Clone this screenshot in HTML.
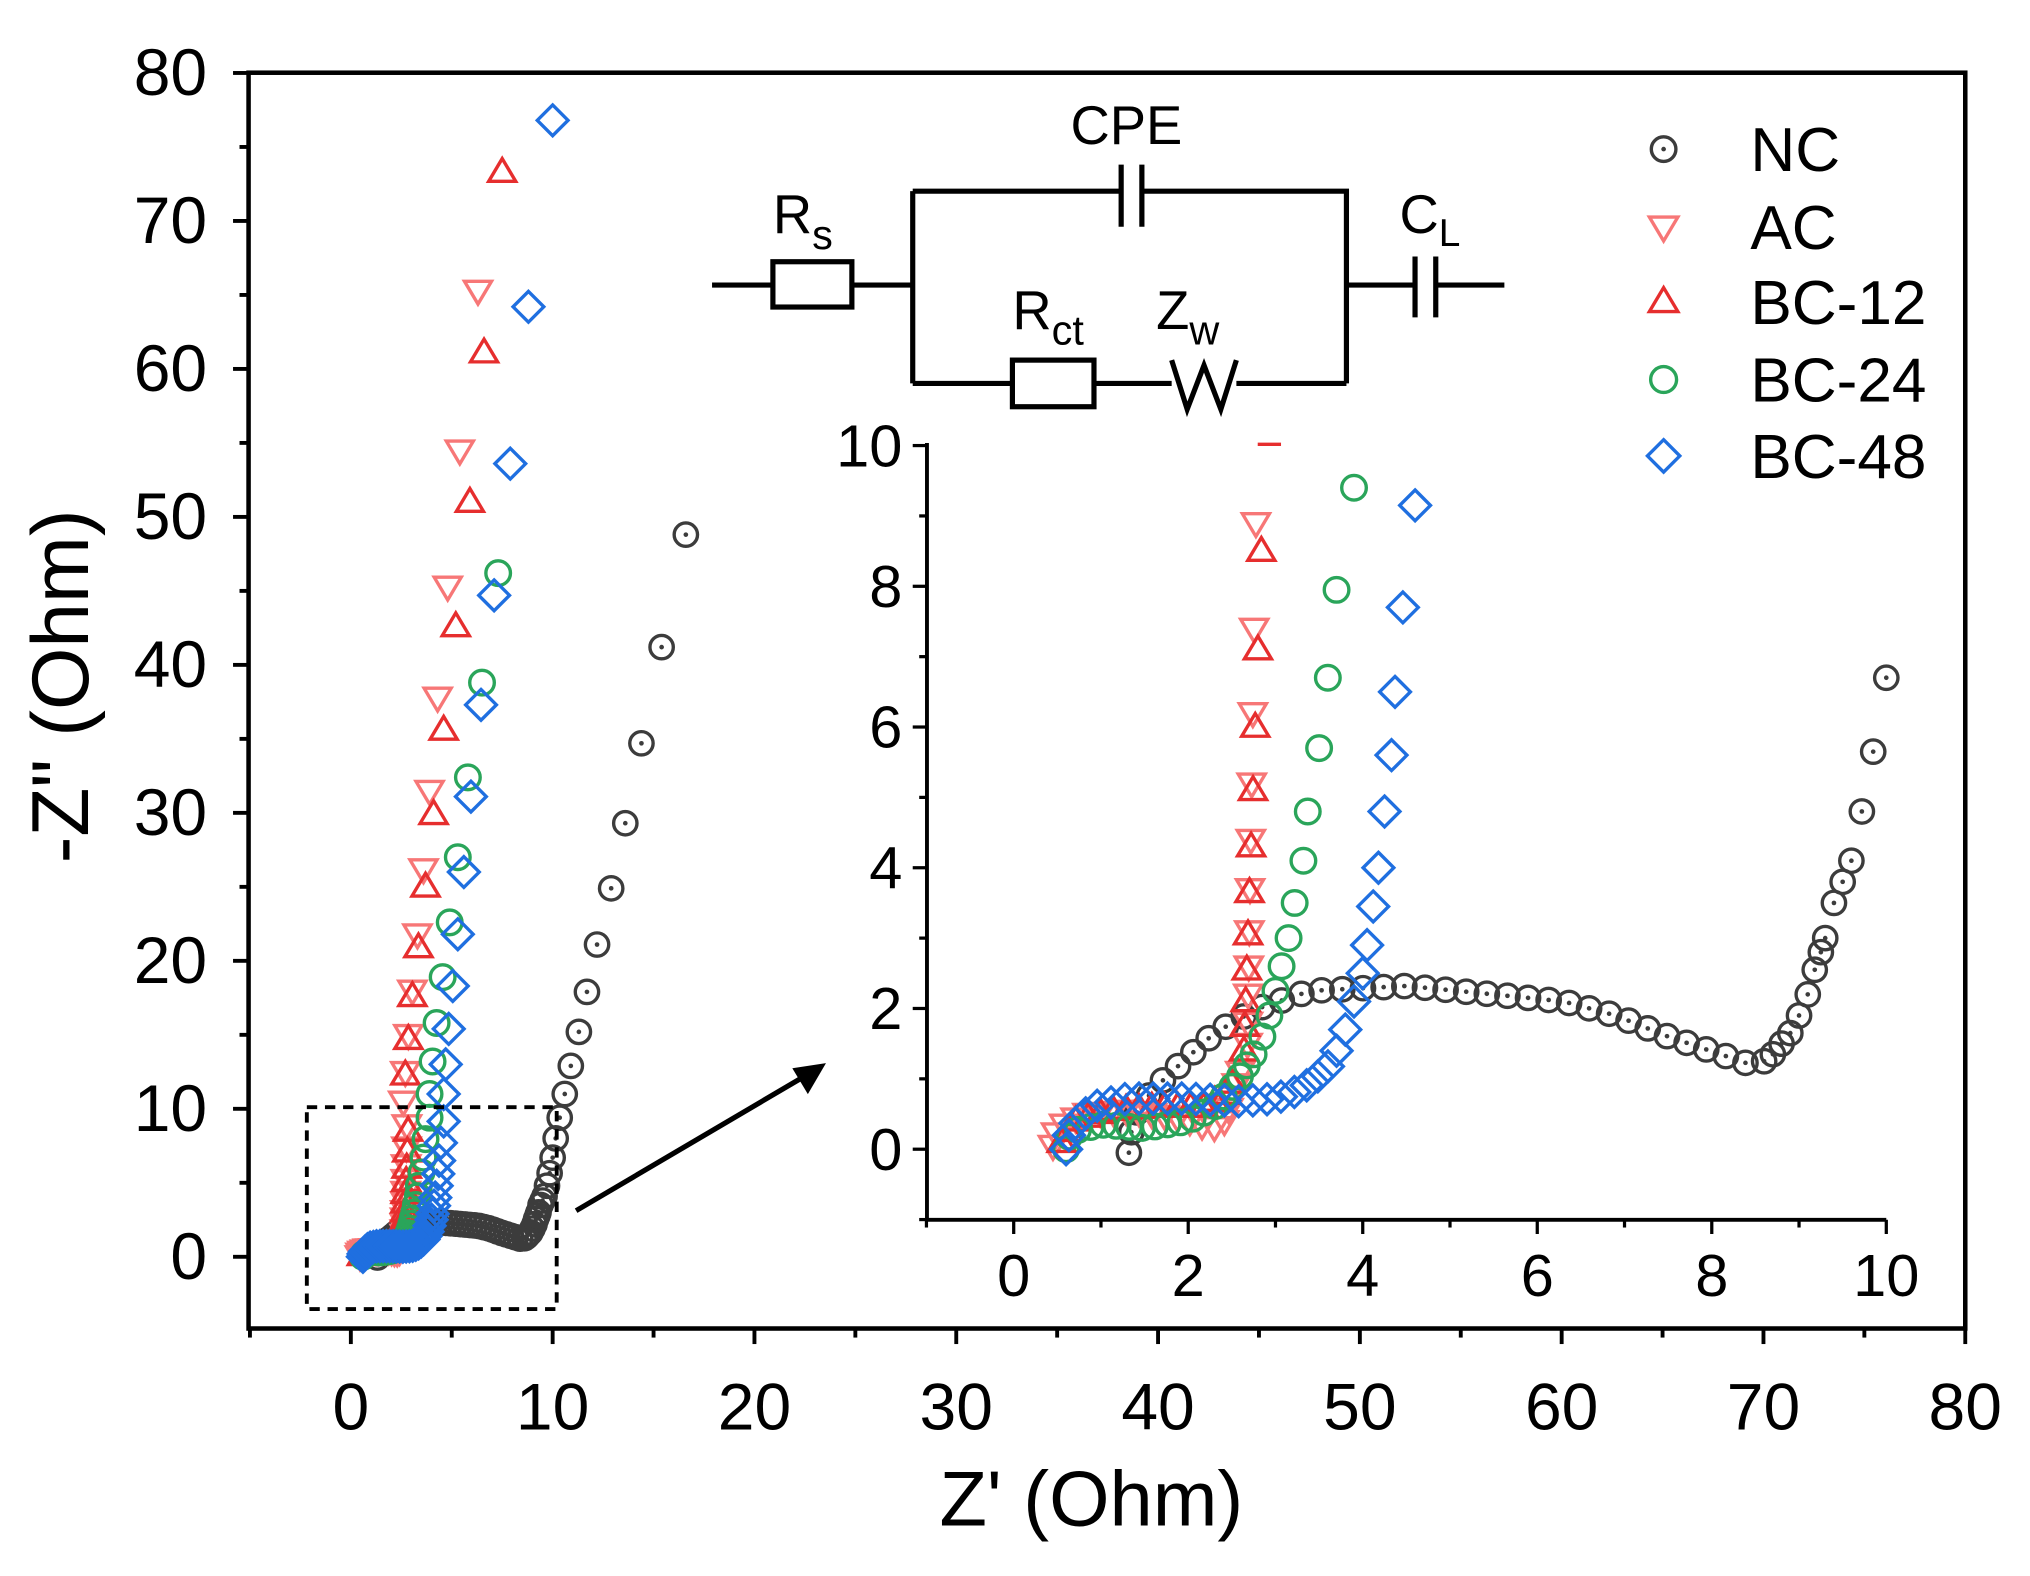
<!DOCTYPE html>
<html><head><meta charset="utf-8"><style>html,body{margin:0;padding:0;background:#fff}svg{display:block}text{font-family:"Liberation Sans",sans-serif}</style></head>
<body>
<svg id="s" xmlns="http://www.w3.org/2000/svg" width="2030" height="1576" viewBox="0 0 1568 1217">
<rect width="1568" height="1217" fill="#fff"/>
<g id="main"></g>
<g id="inset"></g>
<g stroke="#000" stroke-width="4" fill="none">
<path d="M550 220H597M658 220H705M705 147.5V296M705 147.5H866M882 147.5H1040V296M705 296H782M845 296H905M955 296H1040M1040 220H1093M1109 220H1162"/>
<rect x="597" y="202" width="61" height="35" fill="#fff"/>
<rect x="782" y="278" width="63" height="36" fill="#fff"/>
<path d="M866 127V175M882 127V175M1093 198V245M1109 198V245"/>
<path d="M905 278L917 316L930 282L943 316L955 278"/>
</g>
<g font-size="42" fill="#000">
<text x="870" y="111" text-anchor="middle">CPE</text>
<text x="597" y="180">R<tspan font-size="32" dy="12">s</tspan></text>
<text x="782" y="254">R<tspan font-size="32" dy="12">ct</tspan></text>
<text x="893" y="254">Z<tspan font-size="32" dy="12">w</tspan></text>
<text x="1081" y="180">C<tspan font-size="30" dy="10">L</tspan></text>
</g>
<rect x="237" y="855" width="193" height="156" fill="none" stroke="#000" stroke-width="3" stroke-dasharray="8,6"/>
<path d="M445 935L620 832" stroke="#000" stroke-width="4"/>
<path d="M638 821L612 825L624 845Z" fill="#000"/>
<g id="legend"></g>
</svg>
<script>
const NS="http://www.w3.org/2000/svg";
function el(p,t,a){const e=document.createElementNS(NS,t);for(const k in a)e.setAttribute(k,a[k]);p.appendChild(e);return e;}
const M=document.getElementById('main'),I=document.getElementById('inset'),L=document.getElementById('legend');
const mx=v=>271+v*15.5875, my=v=>970.6-v*11.43;
el(M,'rect',{x:192,y:56,width:1326,height:970,fill:'none',stroke:'#000','stroke-width':3.5});
for(let v=-5;v<=80;v+=5){const X=mx(v);el(M,'line',{x1:X,x2:X,y1:1026,y2:1026+(v%10==0?12:7),stroke:'#000','stroke-width':3});
 if(v%10==0&&v>=0){const t=el(M,'text',{x:X,y:1104,'text-anchor':'middle','font-size':51});t.textContent=v;}
 const Y=my(v);if(Y<=1026){el(M,'line',{x1:192,x2:192-(v%10==0?12:7),y1:Y,y2:Y,stroke:'#000','stroke-width':3});
 if(v%10==0&&v>=0){const t=el(M,'text',{x:160,y:Y+17,'text-anchor':'end','font-size':51});t.textContent=v;}}}
let t=el(M,'text',{x:843,y:1178,'text-anchor':'middle','font-size':60});t.textContent="Z' (Ohm)";
t=el(M,'text',{x:0,y:0,'text-anchor':'middle','font-size':62,transform:'translate(68,530) rotate(-90)'});t.textContent='-Z" (Ohm)';
const ix=v=>783+v*67.4, iy=v=>887.5-v*54.35;
el(I,'path',{d:'M716 342V942H1457',fill:'none',stroke:'#000','stroke-width':3});
for(let v=-1;v<=10;v++){const X=ix(v);el(I,'line',{x1:X,x2:X,y1:942,y2:942+(v%2==0?11:6),stroke:'#000','stroke-width':2.5});
 if(v%2==0&&v>=0){const t=el(I,'text',{x:X,y:1001,'text-anchor':'middle','font-size':46});t.textContent=v;}
 const Y=iy(v);el(I,'line',{x1:716,x2:716-(v%2==0?11:6),y1:Y,y2:Y,stroke:'#000','stroke-width':2.5});
 if(v%2==0&&v>=0){const t=el(I,'text',{x:697,y:Y+16,'text-anchor':'end','font-size':46});t.textContent=v;}}
const C={NC:'#3c3c3c',AC:'#f77777',B12:'#e62e2e',B24:'#2aa55a',B48:'#1f6fe0'};
function mark(g,type,x,y,r){const c=C[type],sw=2.6;
 if(type=='NC'){el(g,'circle',{cx:x,cy:y,r:r*0.95,fill:'none',stroke:c,'stroke-width':sw});el(g,'circle',{cx:x,cy:y,r:1.8,fill:c});}
 else if(type=='B24')el(g,'circle',{cx:x,cy:y,r:r,fill:'none',stroke:c,'stroke-width':sw});
 else if(type=='AC')el(g,'path',{d:`M${x-r*1.1} ${y-r*0.75}H${x+r*1.1}L${x} ${y+r*1.1}Z`,fill:'none',stroke:c,'stroke-width':sw});
 else if(type=='B12')el(g,'path',{d:`M${x-r*1.1} ${y+r*0.75}H${x+r*1.1}L${x} ${y-r*1.1}Z`,fill:'none',stroke:c,'stroke-width':sw});
 else el(g,'path',{d:`M${x} ${y-r*1.25}L${x+r*1.25} ${y}L${x} ${y+r*1.25}L${x-r*1.25} ${y}Z`,fill:'none',stroke:c,'stroke-width':sw});}
function resample(path,step){const out=[path[0]];let acc=0;
 for(let i=1;i<path.length;i++){const a=path[i-1],b=path[i];const dx=(b[0]-a[0])*67.4,dy=(b[1]-a[1])*54.35;const d=Math.hypot(dx,dy);let s=step-acc;
  while(s<=d){out.push([a[0]+(b[0]-a[0])*s/d,a[1]+(b[1]-a[1])*s/d]);s+=step;}acc=d-(s-step);}return out;}
const S={
NC:{big:[[16.6,48.8],[15.4,41.2],[14.4,34.7],[13.6,29.3],[12.9,24.9],[12.2,21.1],[11.7,17.9],[11.3,15.2],[10.9,12.9],[10.6,11],[10.35,9.4],[10.15,8]],
 path:[[1.32,-0.05],[1.33,0.15],[1.4,0.5],[1.6,0.85],[1.9,1.2],[2.3,1.65],[2.8,2.0],[3.4,2.25],[4.5,2.32],[5.5,2.2],[6.3,2.1],[6.9,1.9],[7.5,1.6],[8.1,1.35],[8.45,1.2]],step:16,
 vert:[[8.6,1.25],[8.7,1.35],[8.8,1.5],[8.9,1.65],[9.0,1.9],[9.1,2.2],[9.18,2.55],[9.25,2.8],[9.3,3.0],[9.4,3.5],[9.5,3.8],[9.6,4.1],[9.72,4.8],[9.85,5.65],[10.0,6.7]]},
AC:{big:[[6.3,65.3],[5.4,54.5],[4.8,45.3],[4.3,37.8],[3.9,31.5],[3.6,26.2],[3.3,21.8],[3.05,18],[2.85,15],[2.7,12.5],[2.6,10.5]],
 path:[[0.45,0.05],[0.5,0.3],[0.8,0.5],[1.3,0.55],[1.9,0.45],[2.25,0.3],[2.4,0.35],[2.55,0.9],[2.62,1.2]],step:10,
 vert:[1.5,1.8,2.2,2.6,3.1,3.7,4.4,5.2,6.2,7.4,8.9].map(y=>[2.66+0.013*y,y])},
B12:{big:[[7.5,73.3],[6.6,61.1],[5.9,51],[5.2,42.6],[4.6,35.6],[4.1,29.9],[3.7,25],[3.35,20.9],[3.05,17.6],[2.85,14.7],[2.7,12.3]],
 path:[[0.55,0.1],[0.7,0.4],[1.1,0.55],[1.6,0.6],[2.2,0.6],[2.45,0.8],[2.55,1.1]],step:10,
 vert:[1.4,1.75,2.1,2.55,3.05,3.65,4.3,5.1,6.0,7.1,8.5].map(y=>[2.6+0.028*y,y])},
B24:{big:[[7.3,46.2],[6.5,38.8],[5.8,32.4],[5.3,27],[4.9,22.6],[4.55,18.9],[4.25,15.8],[4.05,13.2],[3.9,11]],
 path:[[0.6,0],[0.65,0.25],[1.0,0.35],[1.5,0.3],[2.0,0.4],[2.3,0.6],[2.55,0.95],[2.75,1.35]],step:10,
 vert:[[2.85,1.6],[2.93,1.9],[3.0,2.25],[3.07,2.6],[3.15,3.0],[3.22,3.5],[3.32,4.1],[3.37,4.8],[3.5,5.7],[3.6,6.7],[3.7,7.95],[3.9,9.4]]},
B48:{big:[[10,76.8],[8.8,64.2],[7.9,53.6],[7.1,44.7],[6.45,37.3],[5.95,31.1],[5.6,26],[5.3,21.8],[5.05,18.3],[4.85,15.4],[4.7,13],[4.6,11]],
 path:[[0.6,0],[0.65,0.3],[0.9,0.6],[1.3,0.72],[2.0,0.72],[2.6,0.68],[3.0,0.72],[3.3,0.85],[3.5,1.05],[3.62,1.2]],step:11,
 vert:[[3.7,1.4],[3.8,1.7],[3.9,2.1],[4.0,2.5],[4.05,2.9],[4.12,3.45],[4.18,4.0],[4.25,4.8],[4.33,5.6],[4.37,6.5],[4.46,7.7],[4.6,9.15]]}};
for(const k in S){const s=S[k];const pts=resample(s.path,s.step).concat(s.vert);
 for(const p of s.big)mark(M,k,mx(p[0]),my(p[1]),9.5);
 for(const p of pts)mark(M,k,mx(p[0]),my(p[1]),9.5);
 for(const p of pts){if(p[1]<=10&&p[0]<=10)mark(I,k,ix(p[0]),iy(p[1]),9.5);}}
el(I,'line',{x1:ix(2.93)-9,x2:ix(2.93)+9,y1:343,y2:343,stroke:C.B12,'stroke-width':2.6});
const lg=[['NC','NC',115],['AC','AC',175],['B12','BC-12',233],['B24','BC-24',293],['B48','BC-48',352]];
for(const[k,n,y]of lg){mark(L,k,1285,y,10);const t=el(L,'text',{x:1352,y:y+17,'font-size':48});t.textContent=n;}
</script>
</body></html>
